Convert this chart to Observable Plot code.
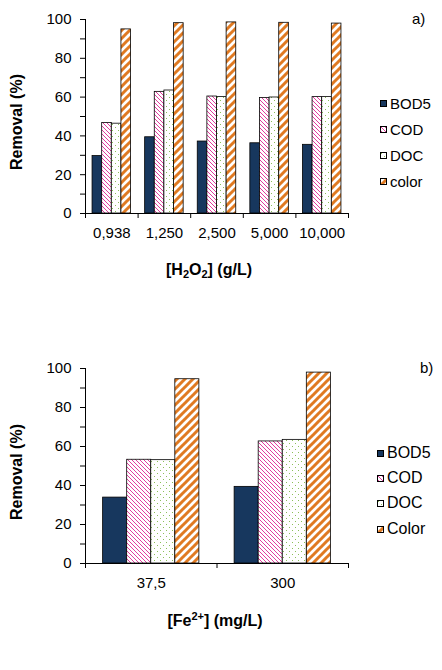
<!DOCTYPE html>
<html>
<head>
<meta charset="utf-8">
<script src="https://cdn.jsdelivr.net/npm/d3@7"></script>
<script src="https://cdn.jsdelivr.net/npm/@observablehq/plot@0.6"></script>
<style>
  body { margin: 0; background: #fff; }
  #page { position: relative; width: 442px; height: 670px; font-family: "Liberation Sans", Arial, sans-serif; color: #000; overflow: hidden; }
  .ytitle { position: absolute; font-weight: bold; font-size: 16px; white-space: nowrap; transform: translate(-50%, -50%) rotate(-90deg); }
  .xtitle { position: absolute; font-weight: bold; font-size: 16px; white-space: nowrap; transform: translate(-50%, -50%); }
  .xtitle sub, .xtitle sup { font-size: 11px; }
  .xtitle sub { vertical-align: -3px; }
  .xtitle sup { vertical-align: 6px; }
  .panel { position: absolute; font-size: 15px; transform: translate(0, -50%); }
  .leg { position: absolute; display: flex; align-items: center; height: 20px; white-space: nowrap; }
  .leg svg { margin-right: 3px; }
</style>
</head>
<body>
<svg width="0" height="0" style="position:absolute">
  <defs>
    <pattern id="pCOD" width="4" height="4" patternUnits="userSpaceOnUse">
      <rect width="4" height="4" fill="#fff"/>
      <path d="M-1,-1L5,5M-1,3L1,5M3,-1L5,1" stroke="#e23c9e" stroke-width="1"/>
    </pattern>
    <pattern id="pDOC" width="6" height="6" patternUnits="userSpaceOnUse">
      <rect width="6" height="6" fill="#fff"/>
      <rect x="1" y="1" width="1" height="1" fill="#8cbf5a"/>
      <rect x="4" y="4" width="1" height="1" fill="#8cbf5a"/>
    </pattern>
    <pattern id="pColor" width="8" height="8" patternUnits="userSpaceOnUse">
      <rect width="8" height="8" fill="#fff"/>
      <path d="M-1,9L9,-1M-1,1L1,-1M7,9L9,7" stroke="#e07a22" stroke-width="3"/>
    </pattern>
  </defs>
</svg>
<div id="page"></div>
<script>
// ---- data ----
const concA = ["0,938", "1,250", "2,500", "5,000", "10,000"];
const seriesA = ["BOD5", "COD", "DOC", "color"];
const bod5A = [29.6, 39.3, 37.1, 36.2, 35.4];
const codA = [46.7, 62.7, 60.3, 59.5, 60.0];
const docA = [46.3, 63.4, 60.0, 59.8, 60.0];
const colorA = [94.9, 98.1, 98.5, 98.3, 97.9];

const concB = ["37,5", "300"];
const seriesB = ["BOD5", "COD", "DOC", "Color"];
const bod5B = [33.8, 39.3];
const codB = [53.2, 62.6];
const docB = [53.0, 63.4];
const colorB = [94.5, 97.9];

const yTicks = d3.range(0, 101, 10);

// ---- styles ----
const fills = ["#17375e", "url(#pCOD)", "url(#pDOC)", "url(#pColor)"];
const pad = 0.134, barW = 0.183;

function rows(conc, cols) {
  const out = [];
  conc.forEach((c, gi) => cols.forEach((vals, si) => out.push({conc: c, gi, si, value: vals[gi]})));
  return out;
}

function chart(conc, cols, opts) {
  const data = rows(conc, cols);
  const n = conc.length;
  const marks = [];
  for (let s = 0; s < 4; s++) {
    marks.push(Plot.rect(data.filter(d => d.si === s), {
      x1: d => d.gi + pad + d.si * barW,
      x2: d => d.gi + pad + (d.si + 1) * barW,
      y1: 0, y2: "value",
      fill: fills[s], stroke: "#000", strokeWidth: 0.8
    }));
  }
  marks.push(Plot.ruleX([0], {stroke: "#000"}));
  marks.push(Plot.ruleY([0], {stroke: "#000"}));
  marks.push(Plot.axisY({ticks: yTicks, tickSize: 5, tickPadding: 9, label: null,
    tickFormat: d => d % 20 === 0 ? String(d) : "", stroke: "#000", fill: "#000"}));
  marks.push(Plot.axisX({ticks: d3.range(0, n + 1), tickSize: 5, label: null, tickFormat: () => "", stroke: "#000"}));
  marks.push(Plot.axisX({ticks: d3.range(n).map(i => i + 0.5), tickSize: 0, tickPadding: 14, label: null,
    tickFormat: d => conc[Math.floor(d)], fill: "#000"}));
  return Plot.plot({
    width: 442, height: opts.height,
    marginLeft: 85, marginRight: 94, marginTop: opts.mt, marginBottom: opts.mb,
    x: {domain: [0, n]},
    y: {domain: [0, 100]},
    style: {fontFamily: "'Liberation Sans', Arial, sans-serif", fontSize: "15px", color: "#000", background: "transparent", overflow: "visible"},
    marks
  });
}

const page = document.getElementById("page");

function place(el, top) {
  el.style.position = "absolute";
  el.style.left = "0px";
  el.style.top = top + "px";
  page.appendChild(el);
}

place(chart(concA, [bod5A, codA, docA, colorA], {height: 300, mt: 19, mb: 87}), 0);
place(chart(concB, [bod5B, codB, docB, colorB], {height: 270, mt: 28, mb: 47}), 340);

function addHTML(html) { page.insertAdjacentHTML("beforeend", html); }

// titles
addHTML('<div class="ytitle" style="left:17px;top:122px">Removal (%)</div>');
addHTML('<div class="ytitle" style="left:17px;top:472px">Removal (%)</div>');
addHTML('<div class="xtitle" style="left:209px;top:270px">[H<sub>2</sub>O<sub>2</sub>] (g/L)</div>');
addHTML('<div class="xtitle" style="left:215px;top:620px">[Fe<sup>2+</sup>] (mg/L)</div>');
addHTML('<div class="panel" style="left:412px;top:18px">a)</div>');
addHTML('<div class="panel" style="left:420px;top:367px">b)</div>');

// legends
function legend(series, left, ys, fontSize) {
  series.forEach((s, i) => {
    addHTML(`<div class="leg" style="left:${left}px;top:${ys[i] - 10}px;font-size:${fontSize}px">` +
      `<svg width="7" height="7"><rect x="0.5" y="0.5" width="6" height="6" fill="${fills[i]}" stroke="#000" stroke-width="1"/></svg>${s}</div>`);
  });
}
legend(seriesA, 380, [103, 129, 155, 181], 15);
legend(seriesB, 377, [453, 478, 503, 529], 16);
</script>
</body>
</html>
